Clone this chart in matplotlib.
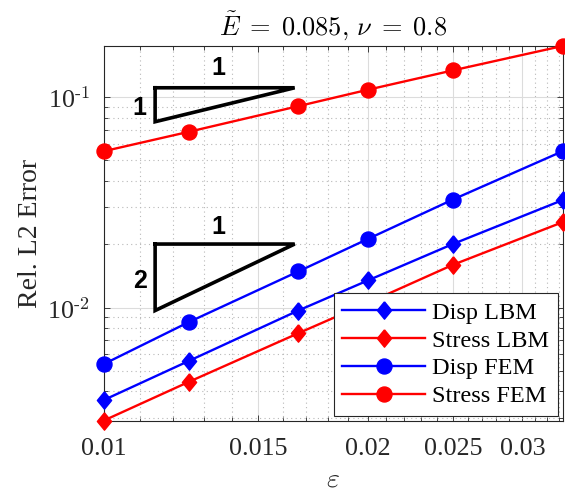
import numpy as np
import matplotlib
matplotlib.use("Agg")
import matplotlib.pyplot as plt
from matplotlib.ticker import FixedLocator, FixedFormatter, LogLocator, NullFormatter

# ---------------- data ----------------
eps = [1/100, 1/80, 1/60, 1/50, 1/40, 1/30]
disp_lbm = [0.00363, 0.00557, 0.00968, 0.01345, 0.02004, 0.0324]
stress_lbm = [0.00290, 0.00443, 0.00755, 0.01052, 0.01596, 0.02544]
disp_fem = [0.00538, 0.00852, 0.01484, 0.02117, 0.0326, 0.0553]
stress_fem = [0.0553, 0.0684, 0.0906, 0.1084, 0.1340, 0.1750]
xtick_vals = [0.01, 0.015, 0.02, 0.025, 0.03]
xtick_labels = ["0.01", "0.015", "0.02", "0.025", "0.03"]
ytick_vals = [0.01, 0.1]
ytick_labels = [r"$\mathregular{10^{\text{-2}}}$", r"$\mathregular{10^{\text{-1}}}$"]
series_names = ["Disp LBM", "Stress LBM", "Disp FEM", "Stress FEM"]
title_text = r"$\tilde{E}\;=\;0.085,\,\nu\;=\;0.8$"
ylabel_text = "Rel. L2 Error"
xlabel_text = r"$\varepsilon$"

plt.rcParams["mathtext.fontset"] = "cm"
plt.rcParams["font.family"] = ["Liberation Serif", "DejaVu Serif"]

fig = plt.figure(figsize=(5.65, 4.92), dpi=100)
L, R, T, B = 103.5, 562.5, 46.0, 420.7
ax = fig.add_axes([L / 565, 1 - B / 492, (R - L) / 565, (B - T) / 492])

diamond = [(0, 1), (0.82, 0), (0, -1), (-0.82, 0), (0, 1)]
lw = 1.7
specs = [
    (disp_lbm, "blue", diamond, 12.5),
    (stress_lbm, "red", diamond, 12.5),
    (disp_fem, "blue", "o", 10.8),
    (stress_fem, "red", "o", 10.8),
]
for (vals, c, m, ms), name in zip(specs, series_names):
    ax.plot(eps, vals, color=c, lw=lw, marker=m, ms=ms, mfc=c, mec=c,
            label=name, clip_on=False, zorder=3)

ax.set_xscale("log")
ax.set_yscale("log")
ax.set_xlim(min(eps), max(eps))
allv = disp_lbm + stress_lbm + disp_fem + stress_fem
ax.set_ylim(min(allv), max(allv))

ax.xaxis.set_major_locator(FixedLocator(xtick_vals))
ax.xaxis.set_major_formatter(FixedFormatter(xtick_labels))
ax.xaxis.set_minor_locator(FixedLocator([0.001 * k for k in range(10, 34) if k % 5 != 0]))
ax.xaxis.set_minor_formatter(NullFormatter())
ax.yaxis.set_major_locator(FixedLocator(ytick_vals))
ax.yaxis.set_major_formatter(FixedFormatter(ytick_labels))
ax.yaxis.set_minor_locator(LogLocator(base=10, subs=np.arange(2, 10), numticks=20))
ax.yaxis.set_minor_formatter(NullFormatter())

tc = "#262626"
ax.tick_params(which="both", direction="in", top=True, right=True, colors=tc,
               labelsize=18.7, width=0.6)
ax.tick_params(which="major", length=4.5)
ax.tick_params(which="minor", length=3.0)
ax.tick_params(axis="x", pad=12.5)
ax.tick_params(axis="y", pad=10)
for s in ax.spines.values():
    s.set_color(tc)
    s.set_linewidth(0.8)

ax.grid(True, which="major", color="#dcdcdc", lw=0.8, ls="-", zorder=0)
ax.grid(True, which="minor", color="#b8b8b8", lw=0.8, ls=(0, (1, 3)), zorder=0)
ax.set_axisbelow(True)

ax.set_title(title_text, fontsize=19, pad=8, color="black")
ax.set_ylabel(ylabel_text, fontsize=20, color=tc, labelpad=3)
ax.set_xlabel(xlabel_text, fontsize=20, color=tc, labelpad=5.5)

# slope triangles
tri1_x = [0.01145, 0.01651, 0.01145, 0.01145]
tri1_y = [0.1108, 0.1108, 0.0764, 0.1108]
tri2_x = [0.01145, 0.01651, 0.01145, 0.01145]
tri2_y = [0.02004, 0.02004, 0.00968, 0.02004]
for tx, ty in [(tri1_x, tri1_y), (tri2_x, tri2_y)]:
    ax.plot(tx, ty, color="black", lw=2.6, solid_joinstyle="miter", zorder=4)
tfont = dict(family=["Liberation Sans", "DejaVu Sans"], weight="bold", fontsize=18,
             ha="center", va="center", zorder=5)
ax.text(0.01350, 0.138, "1", **tfont)
ax.text(0.01100, 0.0884, "1", **tfont)
ax.text(0.01350, 0.02415, "1", **tfont)
ax.text(0.01100, 0.01340, "2", **tfont)

leg = ax.legend(loc="lower right", fontsize=17.5, fancybox=False, framealpha=1,
                edgecolor=tc, handlelength=3.4, handletextpad=0.3, labelspacing=0.24,
                borderpad=0.35, borderaxespad=0.2, numpoints=1)
leg.get_frame().set_linewidth(0.8)
leg.set_zorder(10)

fig.savefig("out.png", dpi=100)
